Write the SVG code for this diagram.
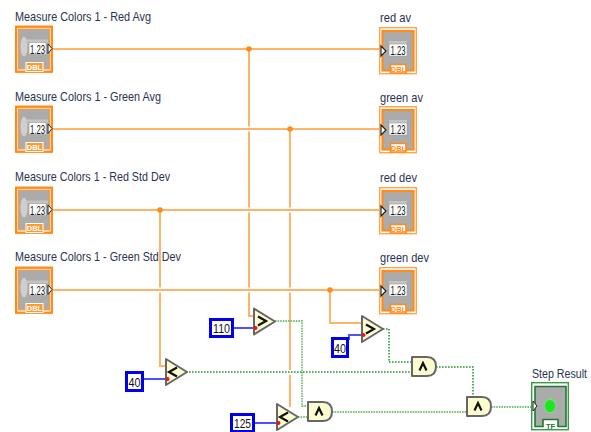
<svg xmlns="http://www.w3.org/2000/svg" width="591" height="432" viewBox="0 0 591 432">
<style>
text{font-family:"Liberation Sans",Arial,sans-serif;fill:#2a3350}
.lab{font-size:13px}
.num{font-size:13px;fill:#111;text-anchor:middle}
.tag{font-size:7.500px;font-weight:bold;text-anchor:middle}
.or{fill:none;stroke:#ffb366;stroke-width:2}
.gap{fill:none;stroke:#fff;stroke-width:5}
.bl{fill:none;stroke:#5050ff;stroke-width:2}
.gr{fill:none;stroke:#1f9a2e;stroke-width:1.600;stroke-dasharray:1.600 1.400}
.grl{fill:none;stroke:#74c47a;stroke-width:1.800;stroke-dasharray:1.600 1}
.cst{fill:#fff;stroke:#0000ee;stroke-width:3}
.cmp{fill:#fdfbd0;stroke:#666;stroke-width:2;stroke-linejoin:round}
.sym{fill:none;stroke:#111;stroke-width:2.200}
.red{fill:#f01010}
.gray{fill:#ababab}
.box{fill:#fff;stroke:#999;stroke-width:.6}
</style>
<defs>
<g id="ctl">
<rect x="1.200" y="1.200" width="35.600" height="45" fill="#fff" stroke="#ff8c1a" stroke-width="2.400"/>
<rect x="3.500" y="3.500" width="31" height="40" class="gray" stroke="#ff9a33" stroke-width="1"/>
<ellipse cx="9" cy="21" rx="3.500" ry="10" fill="#cfcfcf"/>
<rect x="11" y="14" width="22" height="3" fill="#c4c4c4"/>
<rect x="14" y="17" width="17" height="12" class="box"/>
<path d="M33 18.500 L37 23 L33 28 Z" fill="#fff" stroke="#222" stroke-width="1"/>
<rect x="11" y="37" width="17" height="9" fill="#ff9a33" stroke="#fff" stroke-width="1"/>
</g>
<g id="ind">
<rect x=".7" y=".7" width="36.600" height="46" fill="#fff" stroke="#ffa64d" stroke-width="1.400"/>
<rect x="3.500" y="4" width="31" height="39.500" class="gray" stroke="#ff8c1a" stroke-width="2.200"/>
<rect x="10" y="14" width="18" height="3" fill="#c4c4c4"/>
<rect x="10" y="17" width="18" height="12" class="box"/>
<path d="M2 19 L7 24 L2 29 Z" fill="#fff" stroke="#222" stroke-width="1.200"/>
<path d="M11.500 46 V37.500 H27 V46 Z" fill="#fff" stroke="#ff8c1a" stroke-width="1.600"/>
</g>
<path id="tri" class="cmp" d="M0 0 L21 13 L0 26 Z"/>
<path id="and" class="cmp" d="M0 0 H15 Q24 0 24 9.500 Q24 19 15 19 H0 Z"/>
</defs>

<g id="connectors">
<path class="or" d="M249 49 V316 H254"/>
<path class="or" d="M290 129 V370"/>
<path class="or" d="M290 375 V407"/>
<path class="or" d="M160 210 V366 H166"/>
<path class="or" d="M330 290 V323 H362"/>
<path class="gap" d="M246 129 H252 M246 210 H252 M246 290 H252 M287 210 H293 M287 290 H293 M157 290 H163"/>
<path class="or" d="M52 49 H379"/>
<path class="or" d="M52 129 H379"/>
<path class="or" d="M52 210 H379"/>
<path class="or" d="M52 290 H379"/>
<circle cx="249" cy="49" r="2.800" fill="#ff8c1a"/>
<circle cx="290" cy="129" r="2.800" fill="#ff8c1a"/>
<circle cx="160" cy="210" r="2.800" fill="#ff8c1a"/>
<circle cx="330" cy="290" r="2.800" fill="#ff8c1a"/>
<path class="bl" d="M234 328 H254"/>
<path class="bl" d="M144 379 H166"/>
<path class="bl" d="M349 340 V335 H362"/>
<path class="bl" d="M254 423 H277"/>
<path class="grl" d="M275 321 H302 V406 H308"/>
<path class="grl" d="M298 417 H308"/>
<path class="grl" d="M332 412 H467"/>
<path class="gr" d="M383 329 H389 V362 H412"/>
<path class="gr" d="M186 372 H412"/>
<path class="gr" d="M436 367 H473 V397"/>
<path class="grl" d="M491 407 H532"/>
</g>

<g id="ctl-red-avg"><text class="lab" x="15" y="21" textLength="136" lengthAdjust="spacingAndGlyphs">Measure Colors 1 - Red Avg</text><use href="#ctl" x="15" y="25.500"/><text class="num" x="37.500" y="53.500" textLength="15" lengthAdjust="spacingAndGlyphs">1.23</text><text class="tag" x="34.500" y="70" style="fill:#fff">DBL</text></g>
<g id="ctl-green-avg"><text class="lab" x="15" y="101" textLength="146" lengthAdjust="spacingAndGlyphs">Measure Colors 1 - Green Avg</text><use href="#ctl" x="15" y="105.500"/><text class="num" x="37.500" y="133.500" textLength="15" lengthAdjust="spacingAndGlyphs">1.23</text><text class="tag" x="34.500" y="150" style="fill:#fff">DBL</text></g>
<g id="ctl-red-dev"><text class="lab" x="15" y="181" textLength="155" lengthAdjust="spacingAndGlyphs">Measure Colors 1 - Red Std Dev</text><use href="#ctl" x="15" y="186.500"/><text class="num" x="37.500" y="214.500" textLength="15" lengthAdjust="spacingAndGlyphs">1.23</text><text class="tag" x="34.500" y="231" style="fill:#fff">DBL</text></g>
<g id="ctl-green-dev"><text class="lab" x="15" y="261" textLength="166" lengthAdjust="spacingAndGlyphs">Measure Colors 1 - Green Std Dev</text><use href="#ctl" x="15" y="266.500"/><text class="num" x="37.500" y="294.500" textLength="15" lengthAdjust="spacingAndGlyphs">1.23</text><text class="tag" x="34.500" y="311" style="fill:#fff">DBL</text></g>

<g id="ind-red-av"><text class="lab" x="380" y="22" textLength="31" lengthAdjust="spacingAndGlyphs">red av</text><use href="#ind" x="379" y="27"/><text class="num" x="398" y="55" textLength="15" lengthAdjust="spacingAndGlyphs">1.23</text><text class="tag" x="398.500" y="71.500" style="fill:#ff8c1a">DBL</text></g>
<g id="ind-green-av"><text class="lab" x="380" y="102" textLength="43" lengthAdjust="spacingAndGlyphs">green av</text><use href="#ind" x="379" y="106"/><text class="num" x="398" y="134" textLength="15" lengthAdjust="spacingAndGlyphs">1.23</text><text class="tag" x="398.500" y="150.500" style="fill:#ff8c1a">DBL</text></g>
<g id="ind-red-dev"><text class="lab" x="380" y="182" textLength="37" lengthAdjust="spacingAndGlyphs">red dev</text><use href="#ind" x="379" y="187"/><text class="num" x="398" y="215" textLength="15" lengthAdjust="spacingAndGlyphs">1.23</text><text class="tag" x="398.500" y="231.500" style="fill:#ff8c1a">DBL</text></g>
<g id="ind-green-dev"><text class="lab" x="380" y="262" textLength="49" lengthAdjust="spacingAndGlyphs">green dev</text><use href="#ind" x="379" y="267"/><text class="num" x="398" y="295" textLength="15" lengthAdjust="spacingAndGlyphs">1.23</text><text class="tag" x="398.500" y="311.500" style="fill:#ff8c1a">DBL</text></g>

<g id="const-110"><rect class="cst" x="210.500" y="319.500" width="22" height="17"/><text class="num" x="221.500" y="333" textLength="17" lengthAdjust="spacingAndGlyphs">110</text></g>
<g id="const-40a"><rect class="cst" x="126.500" y="372.500" width="16" height="18"/><text class="num" x="134.500" y="386.500" textLength="12" lengthAdjust="spacingAndGlyphs">40</text></g>
<g id="const-40b"><rect class="cst" x="332.500" y="338.500" width="15" height="18"/><text class="num" x="340" y="352.500" textLength="12" lengthAdjust="spacingAndGlyphs">40</text></g>
<g id="const-125"><rect class="cst" x="231.500" y="414.500" width="22" height="17"/><text class="num" x="242.500" y="428" textLength="17" lengthAdjust="spacingAndGlyphs">125</text></g>

<g id="cmp-gt1"><use href="#tri" x="254" y="308.500"/><path class="sym" d="M258 316.500 L266 321 L258 325.500"/><circle class="red" cx="255.500" cy="328" r="2"/></g>
<g id="cmp-gt2"><use href="#tri" x="362" y="316"/><path class="sym" d="M366 324.500 L374 329 L366 333.500"/><circle class="red" cx="363.500" cy="335" r="2"/></g>
<g id="cmp-lt1"><use href="#tri" x="166" y="359"/><path class="sym" d="M177 367.500 L169 372 L177 376.500"/><circle class="red" cx="167.500" cy="379" r="2"/></g>
<g id="cmp-lt2"><use href="#tri" x="277" y="404"/><path class="sym" d="M288 412.500 L280 417 L288 421.500"/><circle class="red" cx="278.500" cy="423" r="2"/></g>

<g id="and-1"><use href="#and" x="308" y="402"/><path class="sym" d="M315.500 415.500 L319 408 L322.500 415.500" stroke-width="1.600"/></g>
<g id="and-2"><use href="#and" x="412" y="357"/><path class="sym" d="M419.500 370.500 L423 363 L426.500 370.500" stroke-width="1.600"/></g>
<g id="and-3"><use href="#and" x="467" y="397"/><path class="sym" d="M474.500 410.500 L478 403 L481.500 410.500" stroke-width="1.600"/></g>

<g id="step-result"><text class="lab" transform="translate(532 378) scale(.82 1)">Step Result</text>
<rect x="531.700" y="382.700" width="36.600" height="47" fill="#fff" stroke="#3a9a48" stroke-width="1.400"/>
<path d="M535 386.500 H566 V426.500 H558 V419.500 H543 V426.500 H535 Z" class="gray" stroke="#1f7a2e" stroke-width="1.600"/>
<path d="M533 401 L537 406 L533 411 Z" fill="#fff" stroke="#222"/>
<ellipse cx="550" cy="406" rx="6.500" ry="8" fill="#8fc98f"/>
<ellipse cx="550" cy="406" rx="5" ry="6" fill="#1ee61e"/>
<text x="550.500" y="428.500" class="tag" style="fill:#1f7a2e">TF</text></g>
</svg>
